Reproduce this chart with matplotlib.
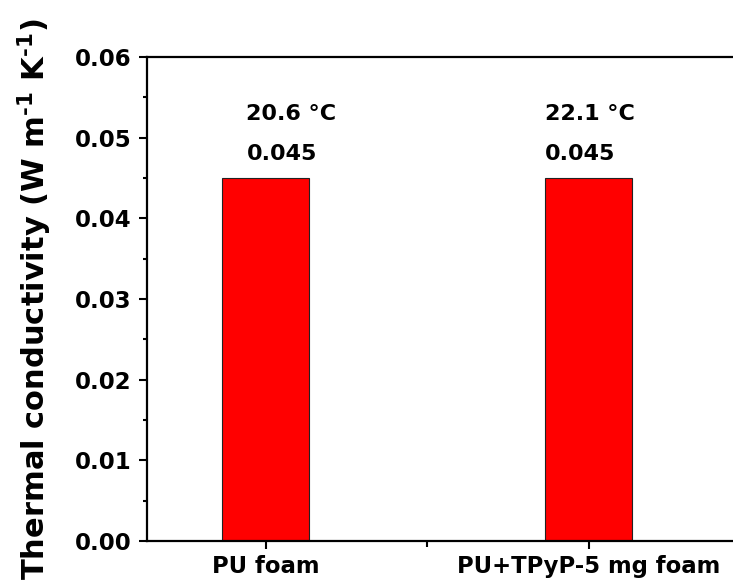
import matplotlib.pyplot as plt
from matplotlib.ticker import MultipleLocator

samples = ["PU foam", "PU+TPyP-5 mg foam"]
conductivity = [0.045, 0.045]
temp_labels = ["20.6 °C", "22.1 °C"]
value_labels = ["0.045", "0.045"]
positions = [1, 2]

plt.rcParams['font.family'] = ['DejaVu Sans']
plt.rcParams['font.weight'] = 'bold'
plt.rcParams['mathtext.default'] = 'regular'

fig = plt.figure(figsize=(7.33, 5.86), dpi=100)
ax = fig.add_axes([0.2005, 0.0768, 0.8226, 0.826])

ax.bar(positions, conductivity, width=0.27, color='#ff0000',
       edgecolor='#222222', linewidth=0.8, zorder=2)

# annotations above bars: temperature and conductivity value
label_x = [1 - 0.06, 2 - 0.135]
for x, t, v in zip(label_x, temp_labels, value_labels):
    ax.text(x, 0.0529, t, ha='left', va='center', fontsize=16, fontweight='bold')
    ax.text(x, 0.0480, v, ha='left', va='center', fontsize=16, fontweight='bold')

ax.set_xlim(0.632, 2.5)
ax.set_ylim(0, 0.06)
ax.set_xticks(positions)
ax.set_xticklabels(samples, fontsize=16.4, fontweight='bold')
ax.xaxis.set_minor_locator(MultipleLocator(0.5))
ax.yaxis.set_major_locator(MultipleLocator(0.01))
ax.yaxis.set_minor_locator(MultipleLocator(0.005))
ax.yaxis.set_major_formatter(plt.FormatStrFormatter('%.2f'))
for lab in ax.get_yticklabels():
    lab.set_fontsize(16.5)
    lab.set_fontweight('bold')

ax.tick_params(which='major', direction='out', length=6, width=1.5)
ax.tick_params(axis='y', which='major', pad=5)
ax.tick_params(axis='x', which='major', pad=4)
ax.tick_params(which='minor', direction='out', length=3, width=1.5)
ax.tick_params(axis='x', which='minor', length=4)
ax.spines['right'].set_visible(False)
for s in ax.spines.values():
    s.set_linewidth(1.6)

ax.set_ylabel(r"Thermal conductivity (W m$^{\text{-}1}$ K$^{\text{-}1}$)", fontsize=22,
              fontweight='bold')
ax.yaxis.set_label_coords(-0.155, 0.5)

fig.savefig('out.png', dpi=100)
